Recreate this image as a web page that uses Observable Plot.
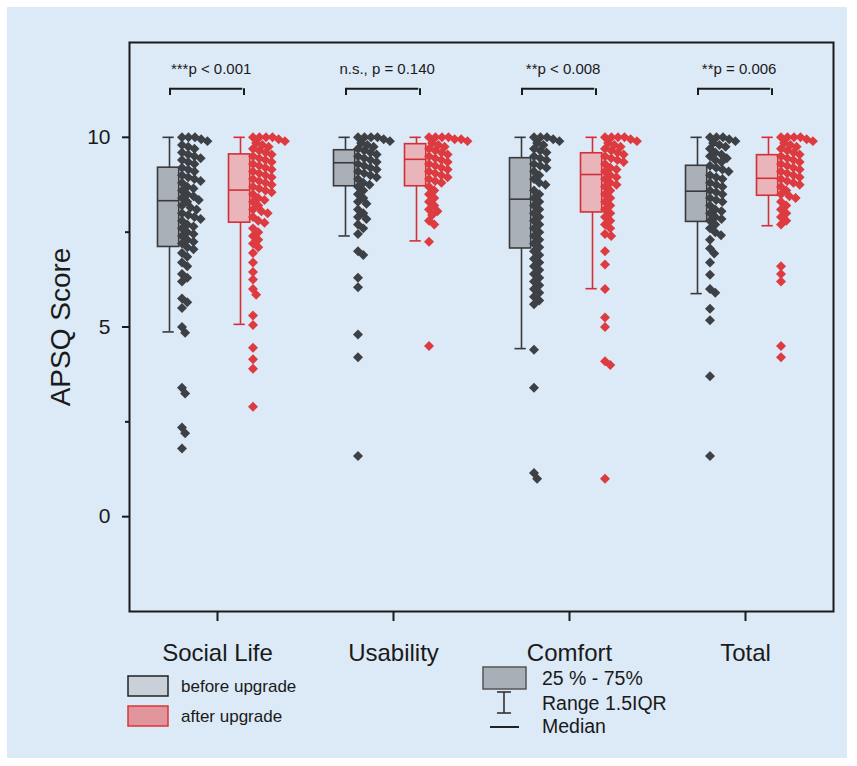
<!DOCTYPE html>
<html>
<head>
<meta charset="utf-8">
<script src="https://cdn.jsdelivr.net/npm/d3@7"></script>
<script src="https://cdn.jsdelivr.net/npm/@observablehq/plot@0.6"></script>
<style>
  body { margin: 0; background: #ffffff; }
  #wrap { position: relative; width: 857px; height: 766px; font-family: "Liberation Sans", Arial, sans-serif; }
  #panel { position: absolute; left: 7px; top: 7px; width: 840px; height: 751px; background: #dce9f6; }
  #chart { position: absolute; left: 0; top: 0; }
  #legend { position: absolute; left: 0; top: 0; pointer-events: none; }
</style>
</head>
<body>
<div id="wrap">
  <div id="panel"></div>
  <div id="chart"></div>
  <div id="legend"></div>
</div>
<script>
// ---------- data ----------
const categories = ["Social Life", "Usability", "Comfort", "Total"];
const groups = ["before", "after"];
const pLabels = ["***p < 0.001", "n.s., p = 0.140", "**p < 0.008", "**p = 0.006"];
const yTicks = [0, 5, 10];
const yMinorTicks = [2.5, 7.5];

const beforeQ1     = [7.11, 8.71, 7.07, 7.77];
const beforeMedian = [8.33, 9.33, 8.37, 8.58];
const beforeQ3     = [9.20, 9.66, 9.45, 9.25];
const beforeLow    = [4.87, 7.40, 4.43, 5.88];
const beforeHigh   = [10, 10, 10, 10];

const afterQ1     = [7.75, 8.71, 8.02, 8.46];
const afterMedian = [8.61, 9.42, 9.02, 8.92];
const afterQ3     = [9.55, 9.82, 9.58, 9.53];
const afterLow    = [5.07, 7.27, 6.01, 7.67];
const afterHigh   = [10, 10, 10, 10];

const socialBefore = [10, 10, 10, 9.95, 9.9, 9.8, 9.75, 9.7, 9.6, 9.55, 9.5, 9.45, 9.4, 9.35, 9.3, 9.2, 9.15, 9.1, 9.0, 8.95, 8.9, 8.85, 8.8, 8.7, 8.65, 8.6, 8.5, 8.45, 8.4, 8.35, 8.3, 8.2, 8.15, 8.1, 8.0, 7.95, 7.9, 7.85, 7.8, 7.7, 7.65, 7.6, 7.5, 7.45, 7.4, 7.3, 7.25, 7.2, 7.1, 7.05, 6.95, 6.85, 6.7, 6.6, 6.4, 6.3, 6.2, 5.75, 5.65, 5.5, 5.0, 4.85, 3.4, 3.25, 2.35, 2.2, 1.8];
const socialAfter = [10, 10, 10, 10, 9.95, 9.9, 9.85, 9.8, 9.75, 9.7, 9.65, 9.6, 9.55, 9.5, 9.45, 9.4, 9.35, 9.3, 9.25, 9.2, 9.15, 9.1, 9.05, 9.0, 8.95, 8.9, 8.85, 8.8, 8.75, 8.7, 8.65, 8.6, 8.55, 8.5, 8.4, 8.35, 8.3, 8.2, 8.1, 8.05, 8.0, 7.9, 7.8, 7.75, 7.6, 7.5, 7.4, 7.3, 7.2, 7.1, 6.95, 6.7, 6.45, 6.25, 6.0, 5.85, 5.3, 5.05, 4.45, 4.15, 3.9, 2.9];
const usabilityBefore = [10, 10, 10, 10, 9.95, 9.9, 9.85, 9.8, 9.75, 9.7, 9.65, 9.6, 9.55, 9.5, 9.45, 9.4, 9.35, 9.3, 9.25, 9.2, 9.15, 9.1, 9.05, 9.0, 8.95, 8.9, 8.8, 8.75, 8.7, 8.6, 8.5, 8.4, 8.3, 8.25, 8.1, 8.0, 7.9, 7.85, 7.7, 7.6, 7.45, 7.0, 6.9, 6.3, 6.05, 4.8, 4.2, 1.6];
const usabilityAfter = [10, 10, 10, 10, 9.95, 9.95, 9.9, 9.85, 9.8, 9.75, 9.7, 9.65, 9.6, 9.55, 9.5, 9.45, 9.4, 9.35, 9.3, 9.25, 9.2, 9.15, 9.1, 9.05, 9.0, 8.95, 8.9, 8.85, 8.8, 8.7, 8.6, 8.5, 8.4, 8.3, 8.2, 8.1, 8.05, 7.95, 7.8, 7.7, 7.25, 4.5];
const comfortBefore = [10, 10, 10, 9.95, 9.9, 9.85, 9.8, 9.7, 9.65, 9.6, 9.5, 9.45, 9.4, 9.3, 9.25, 9.2, 9.1, 9.0, 8.9, 8.8, 8.75, 8.6, 8.5, 8.4, 8.3, 8.2, 8.1, 8.0, 7.9, 7.8, 7.7, 7.6, 7.5, 7.4, 7.3, 7.2, 7.1, 7.0, 6.9, 6.8, 6.7, 6.6, 6.5, 6.4, 6.3, 6.2, 6.1, 6.0, 5.9, 5.8, 5.7, 5.6, 4.4, 3.4, 1.15, 1.0];
const comfortAfter = [10, 10, 10, 10, 9.95, 9.9, 9.85, 9.8, 9.75, 9.7, 9.65, 9.6, 9.55, 9.5, 9.45, 9.4, 9.35, 9.3, 9.2, 9.15, 9.1, 9.0, 8.95, 8.9, 8.8, 8.75, 8.7, 8.6, 8.5, 8.4, 8.3, 8.2, 8.1, 8.0, 7.9, 7.8, 7.7, 7.6, 7.45, 7.4, 7.0, 6.65, 6.0, 5.25, 5.0, 4.1, 4.0, 1.0];
const totalBefore = [10, 10, 10, 9.95, 9.9, 9.85, 9.8, 9.75, 9.7, 9.6, 9.55, 9.5, 9.45, 9.4, 9.35, 9.25, 9.2, 9.15, 9.1, 9.0, 8.95, 8.9, 8.8, 8.75, 8.7, 8.6, 8.55, 8.5, 8.4, 8.35, 8.3, 8.2, 8.1, 8.05, 8.0, 7.9, 7.85, 7.8, 7.7, 7.6, 7.5, 7.42, 7.3, 7.07, 6.94, 6.7, 6.38, 6.0, 5.9, 5.48, 5.18, 3.7, 1.6];
const totalAfter = [10, 10, 10, 10, 9.95, 9.9, 9.85, 9.8, 9.75, 9.7, 9.65, 9.6, 9.55, 9.5, 9.45, 9.4, 9.35, 9.3, 9.25, 9.2, 9.15, 9.1, 9.05, 9.0, 8.95, 8.9, 8.85, 8.8, 8.75, 8.7, 8.6, 8.5, 8.45, 8.4, 8.3, 8.2, 8.1, 8.0, 7.9, 7.8, 7.7, 6.6, 6.4, 6.2, 4.5, 4.2];

// ---------- tables built from the arrays ----------
const beforeValues = [socialBefore, usabilityBefore, comfortBefore, totalBefore];
const afterValues = [socialAfter, usabilityAfter, comfortAfter, totalAfter];
const beforePts = beforeValues.flatMap((vs, i) => vs.map(v => ({cat: categories[i], v})));
const afterPts = afterValues.flatMap((vs, i) => vs.map(v => ({cat: categories[i], v})));
const idx = categories.map((_, i) => i);
const cat = i => categories[i];

// ---------- layout / style ----------
const FONT = '"Liberation Sans", Arial, sans-serif';
const W = 857, H = 680, ML = 127, MR = 23, MT = 42, MB = 69;
const BW = (W - ML - MR) / categories.length;  // facet band width
const C = BW / 2;
const BOX_B = [28.5, 50.5], BOX_A = [99.5, 121.5];
const midB = (BOX_B[0] + BOX_B[1]) / 2, midA = (BOX_A[0] + BOX_A[1]) / 2;
const CAP = 6;
const DOT_R = 4.5, DOT_PAD = -2.5;
const GRAY_FILL = "#a9b0b8", GRAY_STROKE = "#3a3a3a", GRAY_DOT = "#3d4045";
const RED_FILL = "#e9b5bb", RED_STROKE = "#d42f35", RED_DOT = "#dd3b40";
const BRACKET_Y = 11.28, BRACKET_LEG = 11.10, LABEL_Y = 11.68;

function boxMarks(g, q1, med, q3, lo, hi, band, mid, fill, stroke) {
  return [
    Plot.ruleX(idx, {fx: cat, x: () => g, y1: i => lo[i], y2: i => hi[i], stroke, strokeWidth: 1.6}),
    Plot.tickY(idx, {fx: cat, y: i => lo[i], insetLeft: mid - CAP, insetRight: BW - mid - CAP, stroke, strokeWidth: 1.6}),
    Plot.tickY(idx, {fx: cat, y: i => hi[i], insetLeft: mid - CAP, insetRight: BW - mid - CAP, stroke, strokeWidth: 1.6}),
    Plot.barY(idx, {fx: cat, y1: i => q1[i], y2: i => q3[i], insetLeft: band[0], insetRight: BW - band[1], fill, stroke, strokeWidth: 1.6}),
    Plot.tickY(idx, {fx: cat, y: i => med[i], insetLeft: band[0], insetRight: BW - band[1], stroke, strokeWidth: 1.6})
  ];
}

const chart = Plot.plot({
  width: W, height: H,
  marginLeft: ML, marginRight: MR, marginTop: MT, marginBottom: MB,
  style: {background: "transparent", fontFamily: FONT, color: "#1a1a1a", overflow: "visible"},
  fx: {domain: categories, padding: 0},
  x: {type: "point", domain: groups, range: [ML + midB, ML + midA], padding: 0, axis: null},
  y: {domain: [-2.5, 12.5]},
  marks: [
    Plot.axisY({ticks: yTicks, tickSize: 7, tickPadding: 12, fontSize: 21, strokeWidth: 2, label: null}),
    Plot.axisY({ticks: yMinorTicks, tickSize: 4, tickFormat: () => "", strokeWidth: 2, label: null}),
    Plot.axisFx({anchor: "bottom", tickSize: 10, tickPadding: 22, fontSize: 24, strokeWidth: 2, label: null}),
    ...boxMarks("before", beforeQ1, beforeMedian, beforeQ3, beforeLow, beforeHigh, BOX_B, midB, GRAY_FILL, GRAY_STROKE),
    ...boxMarks("after", afterQ1, afterMedian, afterQ3, afterLow, afterHigh, BOX_A, midA, RED_FILL, RED_STROKE),
    Plot.dot(beforePts, Plot.dodgeX({anchor: "left", padding: DOT_PAD}, {fx: "cat", y: "v", r: DOT_R, symbol: "diamond2", fill: GRAY_DOT, dx: BOX_B[1]})),
    Plot.dot(afterPts, Plot.dodgeX({anchor: "left", padding: DOT_PAD}, {fx: "cat", y: "v", r: DOT_R, symbol: "diamond2", fill: RED_DOT, dx: BOX_A[1]})),
    // significance brackets
    Plot.ruleY(idx, {fx: cat, y: () => BRACKET_Y, insetLeft: 40, insetRight: BW - 114, stroke: "#1a1a1a", strokeWidth: 2}),
    Plot.ruleX(idx, {fx: cat, x: () => "before", dx: 0.5, y1: () => BRACKET_LEG, y2: () => BRACKET_Y, stroke: "#1a1a1a", strokeWidth: 2}),
    Plot.ruleX(idx, {fx: cat, x: () => "after", dx: 3.5, y1: () => BRACKET_LEG, y2: () => BRACKET_Y, stroke: "#1a1a1a", strokeWidth: 2}),
    Plot.text(idx, {fx: cat, y: () => LABEL_Y, text: i => pLabels[i], dx: 82 - C, lineAnchor: "bottom", fontSize: 15, fill: "#1a1a1a"}),
    Plot.frame({facet: "super", stroke: "#1a1a1a", strokeWidth: 2}),
    Plot.text(["APSQ Score"], {facet: "super", text: d => d, frameAnchor: "left", dx: -68, rotate: -90, textAnchor: "middle", lineAnchor: "middle", fontSize: 28, fill: "#1a1a1a"})
  ]
});
document.getElementById("chart").appendChild(chart);

// ---------- legend ----------
const legendItems = ["before upgrade", "after upgrade"];
const keyItems = ["25 % - 75%", "Range 1.5IQR", "Median"];
const lg = d3.select("#legend").append("svg").attr("width", 857).attr("height", 766)
  .style("font-family", FONT);
lg.append("rect").attr("x", 128).attr("y", 676).attr("width", 40).attr("height", 20)
  .attr("fill", "#c9d0d8").attr("stroke", "#222").attr("stroke-width", 1.5);
lg.append("rect").attr("x", 128).attr("y", 706).attr("width", 40).attr("height", 20)
  .attr("fill", "#e0969b").attr("stroke", "#d9363a").attr("stroke-width", 1.5);
lg.selectAll("text.l").data(legendItems).join("text").attr("class", "l")
  .attr("x", 181).attr("y", (d, i) => 692 + i * 30).attr("font-size", 17).attr("fill", "#1a1a1a").text(d => d);
lg.append("rect").attr("x", 483).attr("y", 667).attr("width", 43).attr("height", 22)
  .attr("fill", "#a9afb6").attr("stroke", "#555").attr("stroke-width", 1.5);
const ib = lg.append("g").attr("stroke", "#333").attr("stroke-width", 1.6);
ib.append("line").attr("x1", 504).attr("x2", 504).attr("y1", 692).attr("y2", 713);
ib.append("line").attr("x1", 497).attr("x2", 511).attr("y1", 692).attr("y2", 692);
ib.append("line").attr("x1", 497).attr("x2", 511).attr("y1", 713).attr("y2", 713);
lg.append("line").attr("x1", 490).attr("x2", 519).attr("y1", 727).attr("y2", 727)
  .attr("stroke", "#222").attr("stroke-width", 2);
lg.selectAll("text.k").data(keyItems).join("text").attr("class", "k")
  .attr("x", 542).attr("y", (d, i) => [685, 710, 733][i]).attr("font-size", 19.5).attr("fill", "#1a1a1a").text(d => d);
</script>
</body>
</html>
